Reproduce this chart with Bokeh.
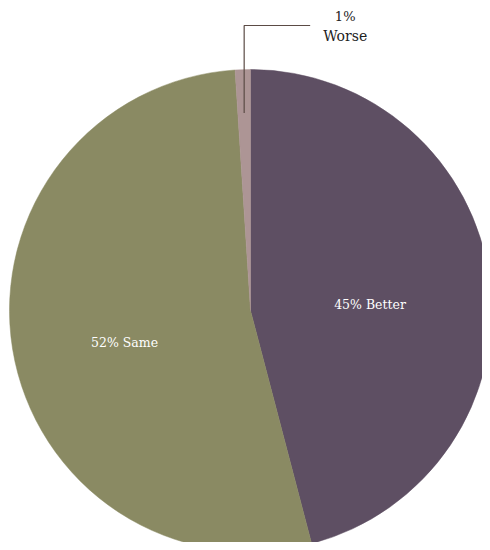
import math
from bokeh.plotting import figure
from bokeh.models import ColumnDataSource, Range1d
from bokeh.core.properties import value
from bokeh.embed import file_html
from bokeh.resources import INLINE

categories = ["Better", "Same", "Worse"]
values = [45, 52, 1]
colors = ["#5e4f63", "#8a8a63", "#ad9595"]

W, H = 482, 542
cx, cy, R = 250, 232, 241

total = sum(values)
starts, ends, mids = [], [], []
a = math.pi / 2
for v in values:
    span = v / total * 2 * math.pi
    starts.append(a)
    ends.append(a - span)
    mids.append(a - span / 2)
    a -= span

src = ColumnDataSource(dict(cat=categories, val=values, color=colors,
                            start=starts, end=ends))

p = figure(width=W, height=H, output_backend="svg", toolbar_location=None,
           x_range=Range1d(0, W), y_range=Range1d(0, H), min_border=0)
p.axis.visible = False
p.grid.visible = False
p.outline_line_color = None
p.background_fill_color = "white"

p.wedge(x=cx, y=cy, radius=R, start_angle="end", end_angle="start",
        direction="anticlock", fill_color="color", line_color="color",
        line_width=0.5, source=src)

# inside labels for the two big slices
lx, ly, lt = [], [], []
for i in range(2):
    r = R * 0.5
    lx.append(cx + r * math.cos(mids[i]))
    ly.append(cy + r * math.sin(mids[i]))
    lt.append(f"{values[i]}% {categories[i]}")
lab = ColumnDataSource(dict(x=lx, y=ly, t=lt, xo=[0, -7], yo=[9, 13]))
p.text(x="x", y="y", text="t", source=lab, text_color="white",
       text_font=value("DejaVu Serif"), text_font_size="12.5px",
       text_align="center", text_baseline="middle",
       x_offset="xo", y_offset="yo")

# leader for the small slice
wm = mids[2]
px = cx + R * 0.82 * math.cos(wm)
py = cy + R * 0.82 * math.sin(wm)
top_y = H - 25
p.line(x=[px, px, px + 66], y=[py, top_y, top_y], line_color="#5b4b45",
       line_width=1.2)
p.text(x=[px + 101], y=[top_y + 9], text=[f"{values[2]}%"], text_color="#222222",
       text_font=value("DejaVu Serif"), text_font_size="13px",
       text_align="center", text_baseline="middle")
p.text(x=[px + 101], y=[top_y - 10], text=[categories[2]], text_color="#222222",
       text_font=value("DejaVu Serif"), text_font_size="14px",
       text_align="center", text_baseline="middle")

open("out.html", "w").write(file_html(p, INLINE))
